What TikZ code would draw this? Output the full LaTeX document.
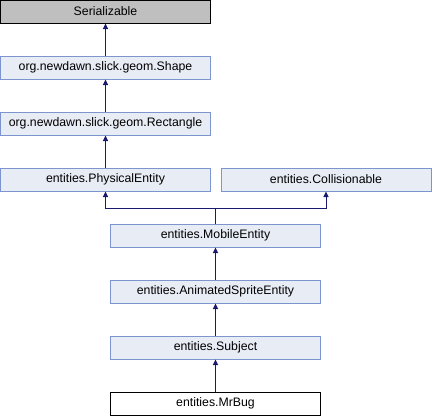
\documentclass[tikz,border=0pt]{standalone}
\usepackage{fontspec}
\setmainfont{Liberation Sans}
\usetikzlibrary{arrows.meta}
\definecolor{boxfill}{RGB}{232,236,245}
\definecolor{boxline}{RGB}{124,149,207}
\definecolor{grayfill}{RGB}{191,191,191}
\definecolor{edgecol}{RGB}{25,25,112}
\tikzset{
  cls/.style={draw=boxline, fill=boxfill, line width=1pt, minimum width=210pt, minimum height=23pt, inner sep=0pt, font=\fontsize{12.3}{14}\selectfont},
  rootcls/.style={cls, draw=black, fill=grayfill},
  curcls/.style={cls, draw=black, fill=white},
  edge/.style={draw=edgecol, line width=1pt},
  arr/.style={edge, -{Triangle[length=5.5pt,width=5pt]}}
}
\begin{document}
\begin{tikzpicture}[x=1pt,y=-1pt]
\useasboundingbox (0,0) rectangle (432,416);
\node[rootcls] (ser) at (105.5,11.5) {Serializable};
\node[cls] (shape) at (105.5,67.5) {org.newdawn.slick.geom.Shape};
\node[cls] (rect) at (105.5,123.5) {org.newdawn.slick.geom.Rectangle};
\node[cls] (phys) at (105.5,179.5) {entities.PhysicalEntity};
\node[cls] (coll) at (326,179.5) {entities.Collisionable};
\node[cls] (mob) at (215.5,235.5) {entities.MobileEntity};
\node[cls] (anim) at (215.5,291.5) {entities.AnimatedSpriteEntity};
\node[cls] (subj) at (215.5,347.5) {entities.Subject};
\node[curcls] (bug) at (215.5,403.5) {entities.MrBug};
\coordinate (j) at (215.5,208);
\draw[arr] (shape.north) -- (ser.south);
\draw[arr] (rect.north) -- (shape.south);
\draw[arr] (phys.north) -- (rect.south);
\draw[edge] (mob.north) -- (j);
\draw[arr] (j) -| (phys.south);
\draw[arr] (j) -| (coll.south);
\draw[arr] (anim.north) -- (mob.south);
\draw[arr] (subj.north) -- (anim.south);
\draw[arr] (bug.north) -- (subj.south);
\end{tikzpicture}
\end{document}
